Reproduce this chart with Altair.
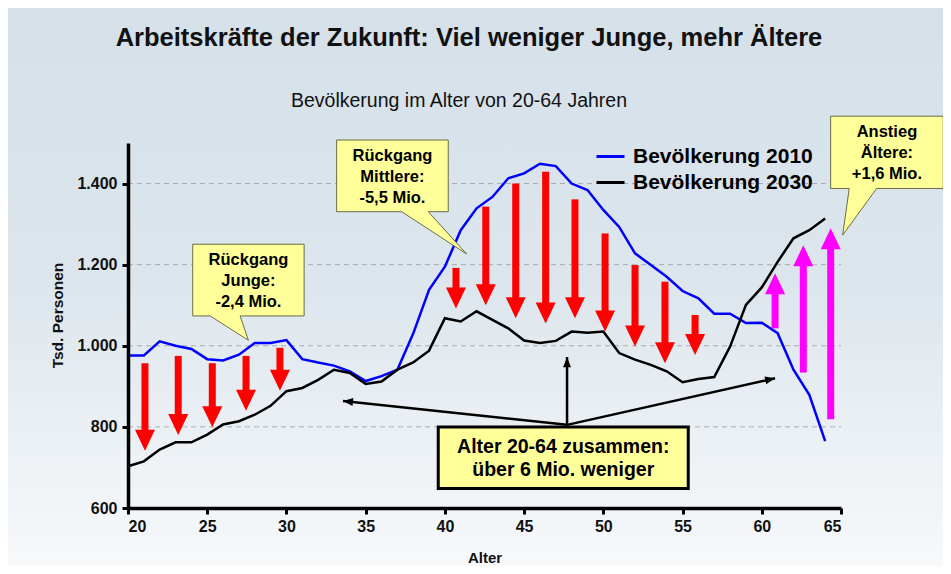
import math
import altair as alt
import pandas as pd

W, H = 713, 365
X_DOMAIN = [20, 65]
Y_DOMAIN = [600, 1500]
FONT = "Liberation Sans"

# ---------------- data ----------------
ages = list(range(20, 65))
pop_2010 = [976, 976, 1011, 1000, 992, 967, 964, 978, 1007, 1007,
            1014, 967, 959, 951, 937, 913, 925, 941, 1030, 1138,
            1195, 1285, 1339, 1367, 1413, 1425, 1449, 1443, 1400, 1384,
            1335, 1293, 1228, 1199, 1170, 1135, 1117, 1079, 1079, 1056,
            1057, 1031, 941, 879, 765]
pop_2030 = [703, 715, 744, 762, 762, 781, 806, 814, 830, 852,
            888, 896, 916, 941, 933, 906, 912, 941, 959, 988,
            1068, 1060, 1085, 1064, 1043, 1013, 1007, 1012, 1035, 1032,
            1035, 982, 966, 953, 937, 910, 918, 923, 998, 1101,
            1144, 1207, 1265, 1285, 1314]
series_names = ["Bevölkerung 2010", "Bevölkerung 2030"]

# decline arrows (red): age, start value, tip value
down_x = [21.07, 23.17, 25.32, 27.45, 29.59, 40.70, 42.58, 44.47, 46.36,
          48.21, 50.11, 52.0, 53.89, 55.79]
down_from = [957, 975, 957, 975, 995, 1192, 1343, 1400, 1429, 1361, 1277,
             1199, 1158, 1076]
down_to = [741, 780, 799, 840, 889, 1092, 1100, 1068, 1055, 1068, 1035,
           998, 957, 977]

# increase arrows (magenta)
up_x = [60.84, 62.62, 64.35]
up_from = [1043, 934, 819]
up_to = [1179, 1248, 1290]

# thin black pointer arrows from the summary box
note_origin = (47.71, 805)
note_x = [33.57, 47.71, 60.84]
note_y = [864, 972, 920]

grid_values = [800, 1000, 1200, 1400]
x_ticks = list(range(20, 66, 5))
y_ticks = [600, 800, 1000, 1200, 1400]

title_text = "Arbeitskräfte der Zukunft: Viel weniger Junge, mehr Ältere"
subtitle_text = "Bevölkerung im Alter von 20-64 Jahren"

callouts = [
    (27.60, 1162, ["Rückgang", "Junge:", "-2,4 Mio."]),
    (36.69, 1419, ["Rückgang", "Mittlere:", "-5,5 Mio."]),
    (67.90, 1477, ["Anstieg", "Ältere:", "+1,6 Mio."]),
]
callout_paths = [
    "M-55.7,-35.85 L55.7,-35.85 L55.7,35.85 L-8.3,35.85 L0,60.2 L-38.3,35.85 L-55.7,35.85 Z",
    "M-55.8,-35.85 L55.8,-35.85 L55.8,35.85 L35.8,35.85 L74.2,78.15 L9.2,35.85 L-55.8,35.85 Z",
    "M-56.3,-36.15 L56.3,-36.15 L56.3,36.15 L-10.3,36.15 L-44.3,82.85 L-37.7,36.15 L-56.3,36.15 Z",
]
summary_center = (47.47, 724)
summary_lines = ["Alter 20-64 zusammen:", "über 6 Mio. weniger"]

# ---------------- helpers ----------------
xs = alt.Scale(domain=X_DOMAIN, nice=False, zero=False)
ys = alt.Scale(domain=Y_DOMAIN, nice=False, zero=False)
one = pd.DataFrame({"a": [0]})

AX_X = alt.Axis(
    values=x_ticks, format="d", title="Alter", grid=False,
    domainColor="black", domainWidth=3.5, tickColor="black", tickWidth=3,
    tickSize=6, labelFont=FONT, labelFontSize=16, labelFontWeight="bold",
    labelColor="#111", labelPadding=4, titleFont=FONT, titleFontSize=15,
    titleFontWeight="bold", titleColor="#111", titlePadding=16, zindex=1)
AX_Y = alt.Axis(
    values=y_ticks,
    labelExpr="replace(format(datum.value, ','), ',', '.')",
    title="Tsd. Personen", grid=False,
    domainColor="black", domainWidth=3.5, tickColor="black", tickWidth=3,
    tickSize=6, labelFont=FONT, labelFontSize=16, labelFontWeight="bold",
    labelColor="#111", labelPadding=5, titleFont=FONT, titleFontSize=15.5,
    titleFontWeight="bold", titleColor="#111", titleX=-71, titleY=172,
    titleBaseline="middle", titleAlign="center", titleAngle=270, zindex=1)


def X(f):
    return alt.X(f, type="quantitative", scale=xs, axis=AX_X)


def Y(f):
    return alt.Y(f, type="quantitative", scale=ys, axis=AX_Y)


# background gradient
bg = alt.Chart(one).mark_rect(
    fill=alt.LinearGradient(
        gradient="linear", x1=0, x2=0, y1=0, y2=1,
        stops=[alt.GradientStop(color="#d5e0e9", offset=0),
               alt.GradientStop(color="#dde6ed", offset=0.5),
               alt.GradientStop(color="#f7f9fb", offset=1)]),
    strokeWidth=0,
).encode(x=alt.value(-120), x2=alt.value(W + 102),
         y=alt.value(-135), y2=alt.value(H + 58))

grid = alt.Chart(pd.DataFrame({"v": grid_values})).mark_rule(
    color="#a9adb0", strokeWidth=1, strokeDash=[5, 4]
).encode(y=Y("v"), x=alt.value(0), x2=alt.value(W))

rows = []
for a, v1, v2 in zip(ages, pop_2010, pop_2030):
    rows.append({"age": a, "value": v1, "series": series_names[0]})
    rows.append({"age": a, "value": v2, "series": series_names[1]})
lines_df = pd.DataFrame(rows)

lines = alt.Chart(lines_df).mark_line(strokeWidth=2.5).encode(
    x=X("age"),
    y=Y("value"),
    color=alt.Color("series:N", scale=alt.Scale(domain=series_names,
                    range=["#0000ff", "#000000"]),
                    legend=alt.Legend(
                        title=None, orient="none", legendX=467, legendY=-2,
                        symbolType="stroke", symbolSize=784,
                        symbolStrokeWidth=3, labelFont=FONT, labelFontSize=21,
                        labelFontWeight="bold", labelColor="black",
                        labelLimit=400, labelOffset=7, rowPadding=-3,
                        padding=0, zindex=1)),
    order="age:Q",
)

down_df = pd.DataFrame({"x": down_x, "y0": down_from, "y1": down_to})
up_df = pd.DataFrame({"x": up_x, "y0": up_from, "y1": up_to})

red = "#ff0000"
mag = "#ff00ff"
down_shaft = alt.Chart(down_df).mark_rule(
    color=red, strokeWidth=7, strokeCap="butt", y2Offset=-18
).encode(x=X("x"), y=Y("y0"), y2="y1:Q")
down_head = alt.Chart(down_df).mark_point(
    shape="M-1,-2.1 L1,-2.1 L0,0 Z", size=400, filled=True, fill=red,
    strokeWidth=0, opacity=1
).encode(x=X("x"), y=Y("y1"))

up_shaft = alt.Chart(up_df).mark_rule(
    color=mag, strokeWidth=7, strokeCap="butt", y2Offset=18
).encode(x=X("x"), y=Y("y0"), y2="y1:Q")
up_head = alt.Chart(up_df).mark_point(
    shape="M-1,2.1 L1,2.1 L0,0 Z", size=400, filled=True, fill=mag,
    strokeWidth=0, opacity=1
).encode(x=X("x"), y=Y("y1"))

pxx = W / (X_DOMAIN[1] - X_DOMAIN[0])
pxy = H / (Y_DOMAIN[1] - Y_DOMAIN[0])
angles = []
for tx, ty in zip(note_x, note_y):
    dx = (tx - note_origin[0]) * pxx
    dy = -(ty - note_origin[1]) * pxy
    angles.append(math.degrees(math.atan2(dx, -dy)) % 360)
note_df = pd.DataFrame({"x0": [note_origin[0]] * 3, "y0": [note_origin[1]] * 3,
                        "x": note_x, "y": note_y, "ang": angles})
note_shaft = alt.Chart(note_df).mark_rule(
    color="black", strokeWidth=2.5
).encode(x=X("x0"), y=Y("y0"), x2="x:Q", y2="y:Q")
note_head = alt.Chart(note_df).mark_point(
    shape="M0,0 L-0.8,2 L0.8,2 Z", size=100, filled=True, fill="black",
    strokeWidth=0, opacity=1
).encode(x=X("x"), y=Y("y"), angle=alt.Angle("ang:Q", scale=None))

layers = [bg, grid, lines, down_shaft, down_head, up_shaft, up_head,
          note_shaft, note_head]

for (cx, cy, txt), path in zip(callouts, callout_paths):
    d = pd.DataFrame({"x": [cx], "y": [cy], "t": ["\n".join(txt)]})
    layers.append(alt.Chart(d).mark_point(
        shape=path, size=4, filled=True, fill="#ffff99", stroke="#6b6b4a",
        strokeWidth=1, opacity=1).encode(x=X("x"), y=Y("y")))
    layers.append(alt.Chart(d).mark_text(
        font=FONT, fontSize=16.5, fontWeight="bold", color="black",
        lineBreak="\n", lineHeight=21, align="center", baseline="middle",
        dy=-20
    ).encode(x=X("x"), y=Y("y"), text="t:N"))

sd = pd.DataFrame({"x": [summary_center[0]], "y": [summary_center[1]],
                   "t": ["\n".join(summary_lines)]})
layers.append(alt.Chart(sd).mark_point(
    shape="M-125,-30.8 L125,-30.8 L125,30.8 L-125,30.8 Z", size=4,
    filled=True, fill="#ffff99", stroke="black", strokeWidth=3, opacity=1
).encode(x=X("x"), y=Y("y")))
layers.append(alt.Chart(sd).mark_text(
    font=FONT, fontSize=19.5, fontWeight="bold", color="black",
    lineBreak="\n", lineHeight=23, align="center", baseline="middle",
    dy=-10.5
).encode(x=X("x"), y=Y("y"), text="t:N"))

layers.append(alt.Chart(one).mark_text(
    font=FONT, fontSize=25.5, fontWeight="bold", color="#111",
    align="center", baseline="middle", text=title_text
).encode(x=alt.value(341), y=alt.value(-105)))
layers.append(alt.Chart(one).mark_text(
    font=FONT, fontSize=19.5, color="#111", align="center",
    baseline="middle", text=subtitle_text
).encode(x=alt.value(331), y=alt.value(-42)))

chart = alt.layer(*layers).properties(
    width=W, height=H,
    padding={"left": 120, "top": 135, "right": 102, "bottom": 58},
    autosize=alt.AutoSizeParams(type="none"),
).configure(background="#dde6ed").configure_view(stroke=None)

chart.save("out.html", embed_options={"renderer": "svg", "actions": False})
